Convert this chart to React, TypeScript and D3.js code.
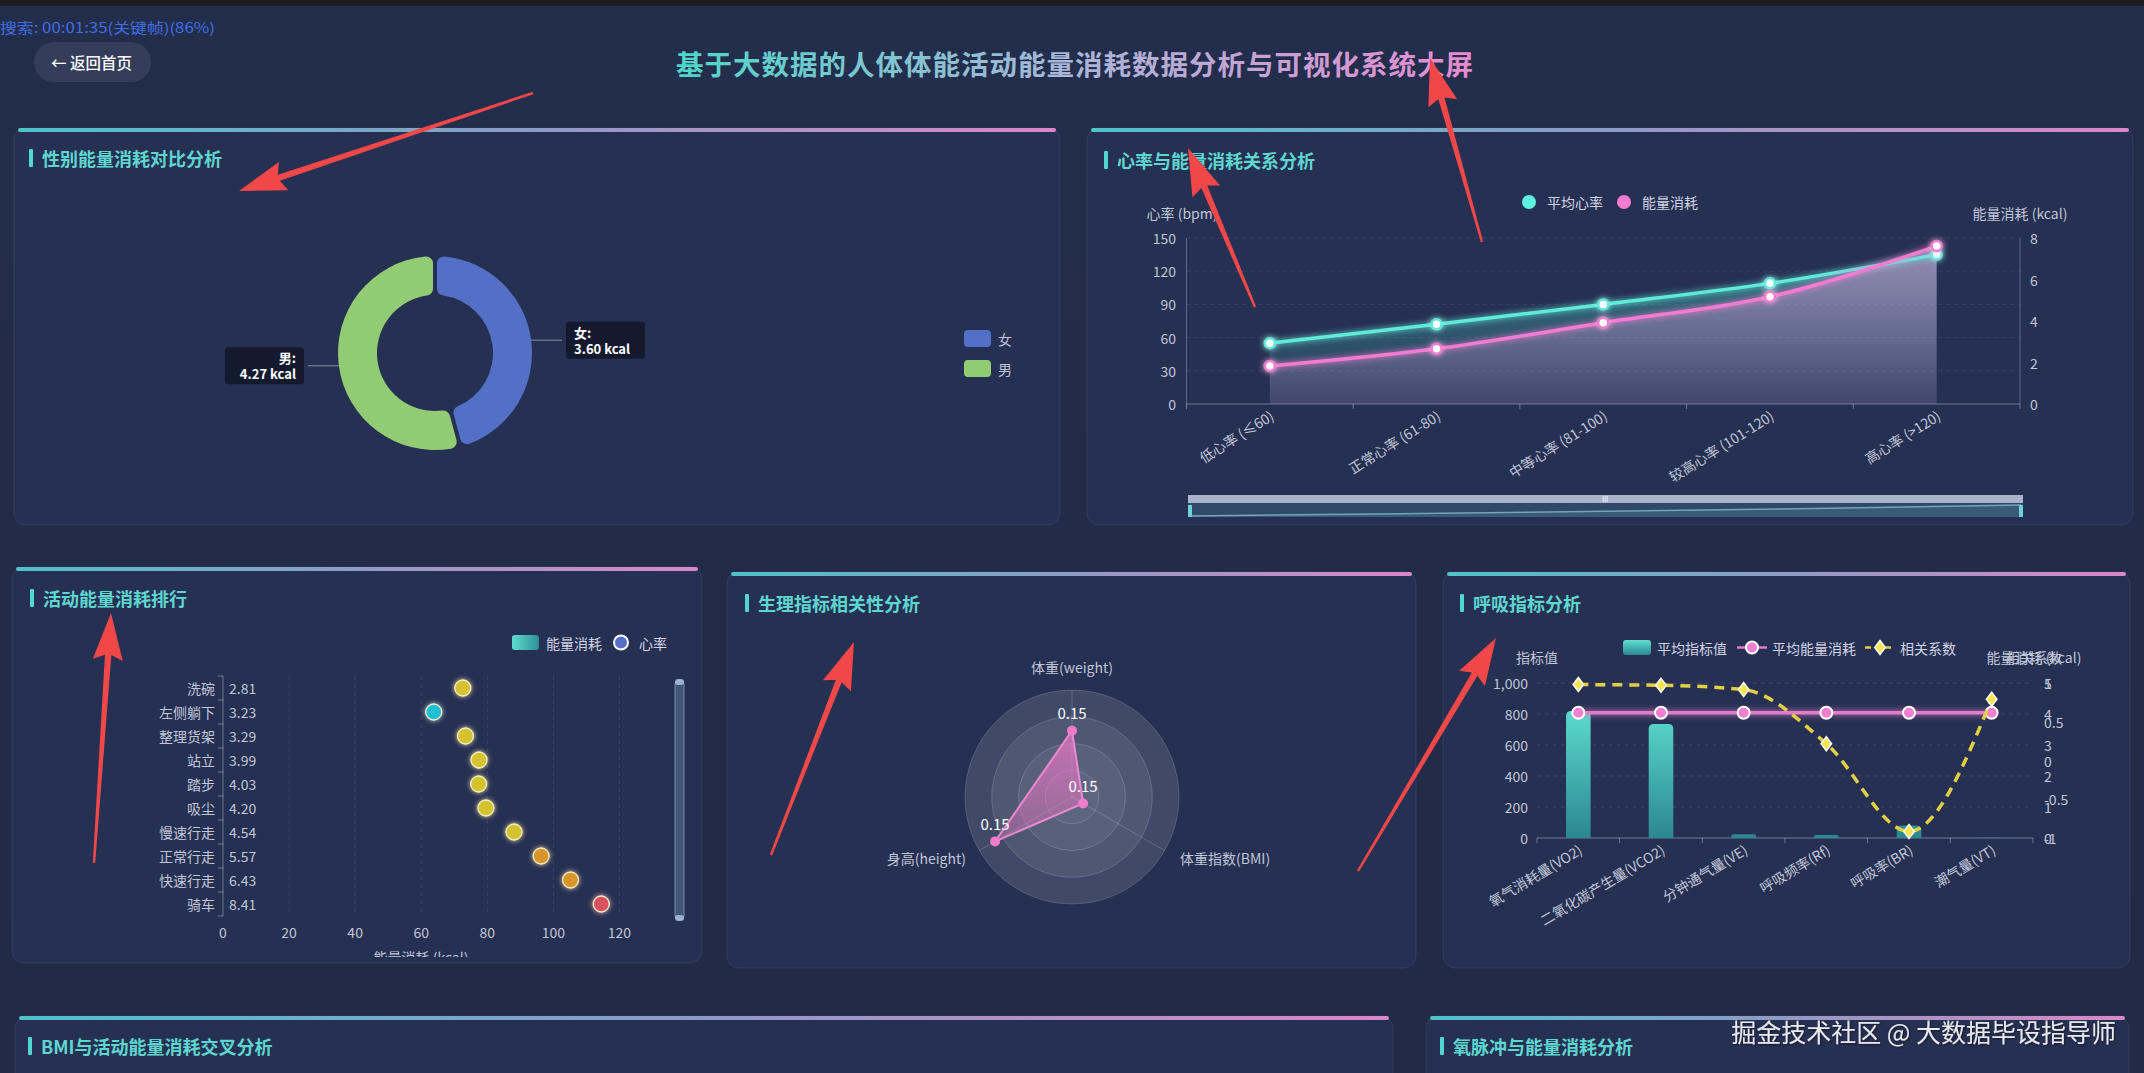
import React from 'react';
import * as d3 from 'd3';

const W = 2144;
const H = 1073;
const FONT = '"Noto Sans CJK SC", "Noto Sans", sans-serif';

// ---------- data ----------
const pageTitle = '基于大数据的人体体能活动能量消耗数据分析与可视化系统大屏';
const searchText = '搜索: 00:01:35(关键帧)(86%)';
const watermark = '掘金技术社区 @ 大数据毕设指导师';

const genderNames = ['女', '男'];
const genderEnergy = [3.6, 4.27];
const genderColors = ['#5470c6', '#91cc75'];

const hrCategories = ['低心率 (≤60)', '正常心率 (61-80)', '中等心率 (81-100)', '较高心率 (101-120)', '高心率 (>120)'];
const hrAvg = [55, 72, 90, 109, 135];
const hrEnergy = [1.83, 2.66, 3.92, 5.17, 7.61];
const hrLeftTicks = [0, 30, 60, 90, 120, 150];
const hrRightTicks = [0, 2, 4, 6, 8];

const activities = ['洗碗', '左侧躺下', '整理货架', '站立', '踏步', '吸尘', '慢速行走', '正常行走', '快速行走', '骑车'];
const activityEnergy = [2.81, 3.23, 3.29, 3.99, 4.03, 4.2, 4.54, 5.57, 6.43, 8.41];
const activityHeartRate = [72.6, 63.8, 73.4, 77.5, 77.4, 79.6, 88.1, 96.3, 105.2, 114.5];
const activityTicks = [0, 20, 40, 60, 80, 100, 120];
const hrPieceBreaks = [70, 90, 110];
const hrPieceColors = ['#24bfd4', '#d4c22e', '#d7952b', '#d9515e'];

const radarIndicators = ['体重(weight)', '体重指数(BMI)', '身高(height)'];
const radarValues = [0.62, 0.12, 0.83];
const radarLabels = ['0.15', '0.15', '0.15'];

const respCategories = ['氧气消耗量(VO2)', '二氧化碳产生量(VCO2)', '分钟通气量(VE)', '呼吸频率(Rf)', '呼吸率(BR)', '潮气量(VT)'];
const respValues = [820, 735, 25, 20, 80, 2];
const respEnergy = [4.04, 4.04, 4.04, 4.04, 4.04, 4.04];
const respCorr = [0.98, 0.97, 0.915, 0.216, -0.915, 0.79];
const respLeftTicks = [0, 200, 400, 600, 800, 1000];
const respEnergyTicks = [0, 1, 2, 3, 4, 5];
const respCorrTicks = [-1, -0.5, 0, 0.5, 1];

const panelTitles = ['性别能量消耗对比分析', '心率与能量消耗关系分析', '活动能量消耗排行', '生理指标相关性分析', '呼吸指标分析', 'BMI与活动能量消耗交叉分析', '氧脉冲与能量消耗分析'];

// ---------- helpers ----------
const AXIS_TXT = '#c0c6d8';
const GRID = 'rgba(255,255,255,0.10)';

function Panel({ x, y, w, h, title, tx, ty }: any) {
  return (
    <g>
      <rect x={x} y={y} width={w} height={h} rx={12} fill="#263052" stroke="rgba(255,255,255,0.07)" />
      <rect x={x + 4} y={y} width={w - 8} height={4} rx={2} fill="url(#topBorder)" />
      <rect x={tx - 13} y={ty - 9} width={4} height={18} rx={1} fill="#52d6d0" />
      <text x={tx} y={ty} dominantBaseline="central" fontSize={18} fontWeight={600} fill="#5ed6d0" fontFamily={FONT}>{title}</text>
    </g>
  );
}

function arrowPoints(tx: number, ty: number, hx: number, hy: number) {
  const dx = hx - tx, dy = hy - ty;
  const L = Math.hypot(dx, dy);
  const ux = dx / L, uy = dy / L;
  const px = -uy, py = ux;
  const headLen = 42, headW = 15;
  const bx = hx - ux * headLen, by = hy - uy * headLen;
  const wx = hx - ux * (headLen + 5), wy = hy - uy * (headLen + 5);
  const pts = [
    [tx + px * 1.2, ty + py * 1.2],
    [bx + px * 3.2, by + py * 3.2],
    [wx + px * headW, wy + py * headW],
    [hx, hy],
    [wx - px * headW, wy - py * headW],
    [bx - px * 3.2, by - py * 3.2],
    [tx - px * 1.2, ty - py * 1.2],
  ];
  return pts.map(p => p.join(',')).join(' ');
}

const arrows = [
  [533, 93, 239, 191],
  [1255, 307, 1188, 148],
  [1482, 242, 1430, 58],
  [94, 863, 111, 613],
  [771, 855, 854, 642],
  [1358, 871, 1496, 638],
];

// ---------- charts ----------
function GenderDonut() {
  const cx = 435, cy = 353;
  const pie = d3.pie<number>().sort(null).padAngle(0.035);
  const arcs = pie(genderEnergy);
  const arc = d3.arc<any>().innerRadius(58).outerRadius(97).cornerRadius(7);
  const edge = d3.arc<any>().innerRadius(97).outerRadius(97);
  return (
    <g>
      {arcs.map((a, i) => (
        <path key={i} d={arc(a) as string} transform={`translate(${cx},${cy})`} fill={genderColors[i]} />
      ))}
      {arcs.map((a, i) => {
        const [ex, ey] = edge.centroid(a);
        const sx = cx + ex, sy = cy + ey;
        const right = sx > cx;
        const lx = right ? cx + 127 : cx - 127;
        const bw = 79, bh = 37;
        const bx = right ? lx + 4 : lx - 4 - bw;
        const by = sy - bh / 2;
        const tX = right ? bx + 8 : bx + bw - 8;
        return (
          <g key={'l' + i}>
            <polyline points={`${sx},${sy} ${lx},${sy}`} stroke="rgba(200,205,220,0.6)" fill="none" />
            <rect x={bx} y={by} width={bw} height={bh} rx={3} fill="rgba(18,22,40,0.85)" />
            <text x={tX} y={sy - 8} textAnchor={right ? 'start' : 'end'} dominantBaseline="central" fill="#fff" fontWeight={700} fontSize={13} fontFamily={FONT}>{genderNames[i]}:</text>
            <text x={tX} y={sy + 8} textAnchor={right ? 'start' : 'end'} dominantBaseline="central" fill="#fff" fontWeight={700} fontSize={13} fontFamily={FONT}>{genderEnergy[i].toFixed(2)} kcal</text>
          </g>
        );
      })}
      {genderNames.map((n, i) => (
        <g key={'lg' + i}>
          <rect x={964} y={330 + i * 30} width={27} height={17} rx={4} fill={genderColors[i]} />
          <text x={998} y={338.5 + i * 30} dominantBaseline="central" fill={AXIS_TXT} fontSize={14} fontFamily={FONT}>{n}</text>
        </g>
      ))}
    </g>
  );
}

function HeartChart() {
  const x = d3.scaleBand<string>().domain(hrCategories).range([1186.5, 2020]);
  const yL = d3.scaleLinear().domain([0, 150]).range([404, 238]);
  const yR = d3.scaleLinear().domain([0, 8]).range([404, 238]);
  const cxs = hrCategories.map(c => (x(c) as number) + x.bandwidth() / 2);
  const curve = d3.curveMonotoneX;
  const lineHr = d3.line<number>().x((_, i) => cxs[i]).y(d => yL(d)).curve(curve);
  const areaHr = d3.area<number>().x((_, i) => cxs[i]).y0(404).y1(d => yL(d)).curve(curve);
  const lineEn = d3.line<number>().x((_, i) => cxs[i]).y(d => yR(d)).curve(curve);
  const areaEn = d3.area<number>().x((_, i) => cxs[i]).y0(404).y1(d => yR(d)).curve(curve);
  const ticksX = [...hrCategories.map(c => x(c) as number), 2020];
  const sx = d3.scalePoint<string>().domain(hrCategories).range([1190, 2021]);
  const sy = d3.scaleLinear().domain(d3.extent(hrAvg) as [number, number]).range([516, 505]);
  const shadow = d3.line<number>().x((_, i) => sx(hrCategories[i]) as number).y(d => sy(d));
  const shadowArea = d3.area<number>().x((_, i) => sx(hrCategories[i]) as number).y0(517).y1(d => sy(d));
  return (
    <g fontFamily={FONT}>
      {hrLeftTicks.map(t => (
        <g key={t}>
          {t > 0 && <line x1={1186.5} x2={2020} y1={yL(t)} y2={yL(t)} stroke={GRID} strokeDasharray="4,4" />}
          <text x={1176} y={yL(t)} textAnchor="end" dominantBaseline="central" fill={AXIS_TXT} fontSize={14}>{t}</text>
        </g>
      ))}
      {hrRightTicks.map(t => (
        <text key={t} x={2030} y={yR(t)} dominantBaseline="central" fill={AXIS_TXT} fontSize={14}>{t}</text>
      ))}
      <line x1={1186.5} x2={1186.5} y1={238} y2={404} stroke="rgba(200,210,230,0.35)" />
      <line x1={2020} x2={2020} y1={238} y2={404} stroke="rgba(200,210,230,0.35)" />
      <line x1={1186.5} x2={2020} y1={404} y2={404} stroke="rgba(200,210,230,0.45)" />
      {ticksX.map((t, i) => <line key={i} x1={t} x2={t} y1={404} y2={409} stroke="rgba(200,210,230,0.45)" />)}
      <text x={1182} y={213} textAnchor="middle" dominantBaseline="central" fill={AXIS_TXT} fontSize={14}>心率 (bpm)</text>
      <text x={2020} y={213} textAnchor="middle" dominantBaseline="central" fill={AXIS_TXT} fontSize={14}>能量消耗 (kcal)</text>
      <path d={areaHr(hrAvg) as string} fill="url(#hrAreaGrad)" />
      <path d={areaEn(hrEnergy) as string} fill="url(#enAreaGrad)" />
      <path d={lineHr(hrAvg) as string} fill="none" stroke="#5eeadc" strokeWidth={3.5} filter="url(#glow)" />
      <path d={lineEn(hrEnergy) as string} fill="none" stroke="#f27ccf" strokeWidth={3.5} filter="url(#glow)" />
      {hrAvg.map((v, i) => <circle key={'a' + i} cx={cxs[i]} cy={yL(v)} r={5} fill="#ffffff" stroke="#5eeadc" strokeWidth={2.5} filter="url(#glow)" />)}
      {hrEnergy.map((v, i) => <circle key={'e' + i} cx={cxs[i]} cy={yR(v)} r={5} fill="#ffffff" stroke="#f27ccf" strokeWidth={2.5} filter="url(#glow)" />)}
      {hrCategories.map((c, i) => (
        <text key={c} transform={`translate(${cxs[i] + 2},${414}) rotate(-32)`} textAnchor="end" dominantBaseline="central" fill={AXIS_TXT} fontSize={14}>{c}</text>
      ))}
      <circle cx={1529} cy={202} r={7} fill="#5ef0e0" />
      <text x={1547} y={202} dominantBaseline="central" fill="#d0d4e4" fontSize={14}>平均心率</text>
      <circle cx={1624} cy={202} r={7} fill="#f47ad0" />
      <text x={1642} y={202} dominantBaseline="central" fill="#d0d4e4" fontSize={14}>能量消耗</text>
      <rect x={1188} y={503} width={835} height={14} fill="rgba(70,120,140,0.35)" />
      <path d={shadowArea(hrAvg) as string} fill="rgba(110,170,200,0.18)" />
      <path d={shadow(hrAvg) as string} fill="none" stroke="rgba(140,200,220,0.7)" strokeWidth={1.5} />
      <rect x={1188} y={495} width={835} height={8} fill="#aab4cc" />
      <text x={1605} y={499} textAnchor="middle" dominantBaseline="central" fill="#ffffff" fontSize={7}>III</text>
      <rect x={1188} y={505} width={4} height={12} fill="#6fd0d8" />
      <rect x={2019} y={505} width={4} height={12} fill="#6fd0d8" />
    </g>
  );
}

function ActivityChart() {
  const y = d3.scaleBand<string>().domain(activities).range([676, 916]);
  const x = d3.scaleLinear().domain([0, 120]).range([223, 619.4]);
  const color = d3.scaleThreshold<number, string>().domain(hrPieceBreaks).range(hrPieceColors);
  const bounds = [...activities.map(a => y(a) as number), 916];
  return (
    <g fontFamily={FONT}>
      <defs>
        <clipPath id="actClip"><rect x={12} y={567} width={690} height={390} /></clipPath>
      </defs>
      {activityTicks.map(t => (
        <g key={t}>
          {t > 0 && <line x1={x(t)} x2={x(t)} y1={676} y2={916} stroke={GRID} strokeDasharray="4,4" />}
          <text x={x(t)} y={932} textAnchor="middle" dominantBaseline="central" fill={AXIS_TXT} fontSize={14}>{t}</text>
        </g>
      ))}
      <line x1={223} x2={223} y1={676} y2={916} stroke="rgba(200,210,230,0.45)" />
      {bounds.map((b, i) => <line key={i} x1={218} x2={223} y1={b} y2={b} stroke="rgba(200,210,230,0.45)" />)}
      {activities.map((a, i) => {
        const cy = (y(a) as number) + y.bandwidth() / 2;
        return (
          <g key={a}>
            <text x={215} y={cy} textAnchor="end" dominantBaseline="central" fill={AXIS_TXT} fontSize={14}>{a}</text>
            <text x={x(0) + 6} y={cy} dominantBaseline="central" fill={AXIS_TXT} fontSize={14}>{activityEnergy[i].toFixed(2)}</text>
            <circle cx={x(activityHeartRate[i])} cy={cy} r={8} fill={color(activityHeartRate[i])} stroke="#f4eecf" strokeWidth={1.3} filter="url(#glowSoft)" />
          </g>
        );
      })}
      <text x={421} y={957} textAnchor="middle" dominantBaseline="central" fill={AXIS_TXT} fontSize={14} clipPath="url(#actClip)">能量消耗 (kcal)</text>
      <rect x={675} y={680} width={9} height={240} rx={4.5} fill="rgba(140,175,210,0.3)" stroke="rgba(170,205,235,0.55)" />
      <rect x={675} y={679} width={9} height={6} rx={3} fill="rgba(190,215,240,0.7)" />
      <rect x={675} y={915} width={9} height={6} rx={3} fill="rgba(190,215,240,0.7)" />
      <rect x={512} y={635} width={27} height={15} rx={3} fill="url(#barGradH)" />
      <text x={546} y={642.5} dominantBaseline="central" fill="#d0d4e4" fontSize={14}>能量消耗</text>
      <circle cx={621} cy={642.5} r={7} fill="#5470c6" stroke="#ffffff" strokeWidth={2} />
      <text x={639} y={642.5} dominantBaseline="central" fill="#d0d4e4" fontSize={14}>心率</text>
    </g>
  );
}

function RadarChart() {
  const cx = 1072, cy = 797, R = 107;
  const r = d3.scaleLinear().domain([0, 1]).range([0, R]);
  const n = radarIndicators.length;
  const ang = (i: number) => (i * 2 * Math.PI) / n;
  const pt = (i: number, v: number) => [cx + r(v) * Math.sin(ang(i)), cy - r(v) * Math.cos(ang(i))];
  const rings = [4, 3, 2, 1];
  const ringOp = [0.12, 0.08, 0.06, 0.03];
  const poly = radarValues.map((v, i) => pt(i, v));
  return (
    <g fontFamily={FONT}>
      {rings.map((k, j) => (
        <circle key={k} cx={cx} cy={cy} r={(R * k) / 4} fill={`rgba(255,255,255,${ringOp[j]})`} stroke="rgba(255,255,255,0.16)" />
      ))}
      {radarIndicators.map((_, i) => {
        const [ex, ey] = pt(i, 1);
        return <line key={i} x1={cx} y1={cy} x2={ex} y2={ey} stroke="rgba(255,255,255,0.18)" />;
      })}
      <polygon points={poly.map(p => p.join(',')).join(' ')} fill="url(#radarGrad)" stroke="#ec8ad0" strokeWidth={2} />
      {poly.map((p, i) => (
        <g key={i}>
          <circle cx={p[0]} cy={p[1]} r={5} fill="#f07ccc" />
          <text x={p[0]} y={p[1] - 18} textAnchor="middle" dominantBaseline="central" fill="#ffffff" fontSize={15}>{radarLabels[i]}</text>
        </g>
      ))}
      <text x={1072} y={667} textAnchor="middle" dominantBaseline="central" fill={AXIS_TXT} fontSize={14}>{radarIndicators[0]}</text>
      <text x={1180} y={858} textAnchor="start" dominantBaseline="central" fill={AXIS_TXT} fontSize={14}>{radarIndicators[1]}</text>
      <text x={966} y={858} textAnchor="end" dominantBaseline="central" fill={AXIS_TXT} fontSize={14}>{radarIndicators[2]}</text>
    </g>
  );
}

function RespChart() {
  const x = d3.scaleBand<string>().domain(respCategories).range([1537, 2033]);
  const yL = d3.scaleLinear().domain([0, 1000]).range([838, 683]);
  const yE = d3.scaleLinear().domain([0, 5]).range([838, 683]);
  const yC = d3.scaleLinear().domain([-1, 1]).range([838, 683]);
  const cxs = respCategories.map(c => (x(c) as number) + x.bandwidth() / 2);
  const bw = 24.6;
  const lineE = d3.line<number>().x((_, i) => cxs[i]).y(d => yE(d));
  const lineC = d3.line<number>().x((_, i) => cxs[i]).y(d => yC(d)).curve(d3.curveMonotoneX);
  const bounds = [...respCategories.map(c => x(c) as number), 2033];
  const fmt = d3.format(',');
  const barPath = (cx: number, top: number) => {
    const h = 838 - top;
    const rr = Math.min(5, h / 2, bw / 2);
    const l = cx - bw / 2, rgt = cx + bw / 2;
    return `M${l},838 L${l},${top + rr} Q${l},${top} ${l + rr},${top} L${rgt - rr},${top} Q${rgt},${top} ${rgt},${top + rr} L${rgt},838 Z`;
  };
  const diamond = (px: number, py: number, s: number) => `M${px},${py - s} L${px + s * 0.75},${py} L${px},${py + s} L${px - s * 0.75},${py} Z`;
  return (
    <g fontFamily={FONT}>
      {respLeftTicks.map(t => (
        <g key={t}>
          {t > 0 && <line x1={1537} x2={2033} y1={yL(t)} y2={yL(t)} stroke={GRID} strokeDasharray="4,4" />}
          <text x={1528} y={yL(t)} textAnchor="end" dominantBaseline="central" fill={AXIS_TXT} fontSize={14}>{fmt(t)}</text>
        </g>
      ))}
      {respEnergyTicks.map(t => (
        <text key={'e' + t} x={2044} y={yE(t)} dominantBaseline="central" fill={AXIS_TXT} fontSize={14}>{t}</text>
      ))}
      {respCorrTicks.map(t => (
        <text key={'c' + t} x={2044} y={yC(t)} dominantBaseline="central" fill={AXIS_TXT} fontSize={14}>{t}</text>
      ))}
      <line x1={1537} x2={2033} y1={838} y2={838} stroke="rgba(200,210,230,0.45)" />
      {bounds.map((b, i) => <line key={i} x1={b} x2={b} y1={838} y2={843} stroke="rgba(200,210,230,0.45)" />)}
      <text x={1537} y={657} textAnchor="middle" dominantBaseline="central" fill={AXIS_TXT} fontSize={14}>指标值</text>
      <text x={2034} y={657} textAnchor="middle" dominantBaseline="central" fill={AXIS_TXT} fontSize={14}>能量消耗 (kcal)</text>
      <text x={2034} y={657} textAnchor="middle" dominantBaseline="central" fill={AXIS_TXT} fontSize={14}>相关系数</text>
      {respValues.map((v, i) => (
        <path key={i} d={barPath(cxs[i], yL(v))} fill="url(#barGradV)" />
      ))}
      <path d={lineE(respEnergy) as string} fill="none" stroke="#e07cc8" strokeWidth={3.5} filter="url(#glow)" />
      {respEnergy.map((v, i) => <circle key={'pe' + i} cx={cxs[i]} cy={yE(v)} r={6} fill="#f27fd0" stroke="#ffffff" strokeWidth={2} />)}
      <path d={lineC(respCorr) as string} fill="none" stroke="#e2d042" strokeWidth={3.5} strokeDasharray="10,7" />
      {respCorr.map((v, i) => <path key={'pc' + i} d={diamond(cxs[i], yC(v), 7)} fill="#f7e44e" stroke="#ffffff" strokeWidth={1.5} />)}
      {respCategories.map((c, i) => (
        <text key={c} transform={`translate(${cxs[i] + 2},${848}) rotate(-31)`} textAnchor="end" dominantBaseline="central" fill={AXIS_TXT} fontSize={14}>{c}</text>
      ))}
      <rect x={1623} y={640} width={28} height={15} rx={3} fill="url(#barGradV2)" />
      <text x={1657} y={647.5} dominantBaseline="central" fill="#d0d4e4" fontSize={14}>平均指标值</text>
      <line x1={1737} x2={1767} y1={647.5} y2={647.5} stroke="#e07cc8" strokeWidth={2.5} />
      <circle cx={1752} cy={647.5} r={6} fill="#f27fd0" stroke="#ffffff" strokeWidth={2} />
      <text x={1772} y={647.5} dominantBaseline="central" fill="#d0d4e4" fontSize={14}>平均能量消耗</text>
      <line x1={1865} x2={1895} y1={647.5} y2={647.5} stroke="#e2d042" strokeWidth={2.5} strokeDasharray="6,4" />
      <path d={diamond(1880, 647.5, 7)} fill="#f7e44e" stroke="#ffffff" strokeWidth={1.5} />
      <text x={1900} y={647.5} dominantBaseline="central" fill="#d0d4e4" fontSize={14}>相关系数</text>
    </g>
  );
}

export default function App() {
  return (
    <svg width={W} height={H} style={{ position: 'fixed', left: 0, top: 0, display: 'block' }} fontFamily={FONT}>
      <defs>
        <linearGradient id="bgGrad" x1="0" y1="0" x2="0" y2="1">
          <stop offset="0" stopColor="#232d4c" />
          <stop offset="1" stopColor="#212a47" />
        </linearGradient>
        <linearGradient id="topBorder" x1="0" y1="0" x2="1" y2="0">
          <stop offset="0" stopColor="#4fc3c6" />
          <stop offset="0.5" stopColor="#8f9cc2" />
          <stop offset="1" stopColor="#d988c8" />
        </linearGradient>
        <linearGradient id="titleGrad" gradientUnits="userSpaceOnUse" x1="677" y1="0" x2="1473" y2="0">
          <stop offset="0" stopColor="#4fd6c8" />
          <stop offset="0.5" stopColor="#a9b6d8" />
          <stop offset="1" stopColor="#e88bd0" />
        </linearGradient>
        <linearGradient id="hrAreaGrad" gradientUnits="userSpaceOnUse" x1="0" y1="238" x2="0" y2="404">
          <stop offset="0" stopColor="rgba(80,225,210,0.45)" />
          <stop offset="1" stopColor="rgba(80,225,210,0.04)" />
        </linearGradient>
        <linearGradient id="enAreaGrad" gradientUnits="userSpaceOnUse" x1="0" y1="238" x2="0" y2="404">
          <stop offset="0" stopColor="rgba(240,150,215,0.55)" />
          <stop offset="1" stopColor="rgba(200,160,220,0.15)" />
        </linearGradient>
        <linearGradient id="barGradV" gradientUnits="userSpaceOnUse" x1="0" y1="700" x2="0" y2="838">
          <stop offset="0" stopColor="#5fe0d4" />
          <stop offset="1" stopColor="#2c8790" />
        </linearGradient>
        <linearGradient id="barGradV2" x1="0" y1="0" x2="0" y2="1">
          <stop offset="0" stopColor="#5fe0d4" />
          <stop offset="1" stopColor="#2c8790" />
        </linearGradient>
        <linearGradient id="barGradH" x1="0" y1="0" x2="1" y2="0">
          <stop offset="0" stopColor="#5fdcd0" />
          <stop offset="1" stopColor="#2c9096" />
        </linearGradient>
        <linearGradient id="radarGrad" x1="0" y1="0" x2="0" y2="1">
          <stop offset="0" stopColor="rgba(236,120,200,0.75)" />
          <stop offset="1" stopColor="rgba(236,120,200,0.35)" />
        </linearGradient>
        <filter id="glow" filterUnits="userSpaceOnUse" x="0" y="0" width={W} height={H}>
          <feGaussianBlur stdDeviation="3" result="b" />
          <feMerge><feMergeNode in="b" /><feMergeNode in="SourceGraphic" /></feMerge>
        </filter>
        <filter id="glowSoft" filterUnits="userSpaceOnUse" x="0" y="0" width={W} height={H}>
          <feGaussianBlur stdDeviation="2.5" result="b" />
          <feMerge><feMergeNode in="b" /><feMergeNode in="SourceGraphic" /></feMerge>
        </filter>
        <filter id="wmShadow" filterUnits="userSpaceOnUse" x="0" y="0" width={W} height={H}>
          <feDropShadow dx="1" dy="1" stdDeviation="1" floodColor="#000" floodOpacity="0.6" />
        </filter>
      </defs>
      <rect x={0} y={0} width={W} height={H} fill="url(#bgGrad)" />
      <rect x={0} y={0} width={W} height={6} fill="#1c1d22" />
      <text x={0} y={27} dominantBaseline="central" fill="#3f6fe6" fontSize={14} textLength={215} lengthAdjust="spacingAndGlyphs">{searchText}</text>

      <rect x={34} y={42} width={117} height={40} rx={20} fill="rgba(255,255,255,0.08)" />
      <text x={51} y={62} dominantBaseline="central" fill="#ffffff" fontSize={15.5} fontWeight={500}>← 返回首页</text>
      <text x={1075} y={63} textAnchor="middle" dominantBaseline="central" fill="url(#titleGrad)" fontSize={27.5} fontWeight={700} letterSpacing={1}>{pageTitle}</text>

      <Panel x={14} y={128} w={1046} h={397} title={panelTitles[0]} tx={42} ty={158} />
      <Panel x={1087} y={128} w={1046} h={397} title={panelTitles[1]} tx={1117} ty={160} />
      <Panel x={12} y={567} w={690} h={396} title={panelTitles[2]} tx={43} ty={598} />
      <Panel x={727} y={572} w={689} h={396} title={panelTitles[3]} tx={758} ty={603} />
      <Panel x={1443} y={572} w={687} h={396} title={panelTitles[4]} tx={1473} ty={603} />
      <Panel x={15} y={1016} w={1378} h={100} title={panelTitles[5]} tx={41} ty={1046} />
      <Panel x={1426} y={1016} w={703} h={100} title={panelTitles[6]} tx={1453} ty={1046} />

      <GenderDonut />
      <HeartChart />
      <ActivityChart />
      <RadarChart />
      <RespChart />

      <text x={2116} y={1031} textAnchor="end" dominantBaseline="central" fill="rgba(255,255,255,0.88)" fontSize={25} filter="url(#wmShadow)">{watermark}</text>

      {arrows.map((a, i) => (
        <polygon key={i} points={arrowPoints(a[0], a[1], a[2], a[3])} fill="#f04848" />
      ))}
    </svg>
  );
}
